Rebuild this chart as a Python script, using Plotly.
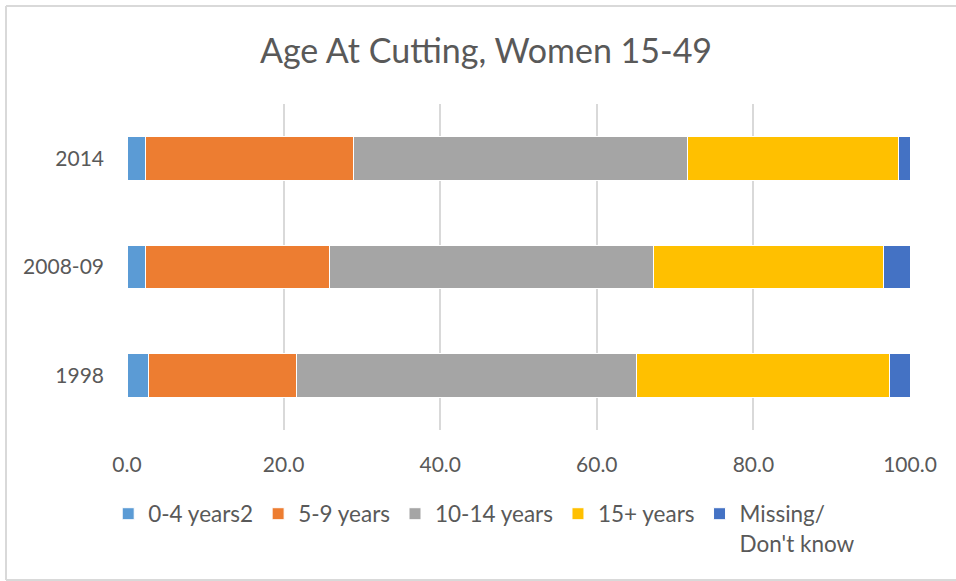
import plotly.graph_objects as go

# Survey years (bottom to top) and share of women by age at cutting (%)
years = ["1998", "2008-09", "2014"]
age_groups = ["0-4 years2", "5-9 years", "10-14 years", "15+ years", "Missing/<br>Don't know"]
age_0_4 = [2.7, 2.4, 2.3]
age_5_9 = [19.0, 23.5, 26.6]
age_10_14 = [43.4, 41.4, 42.7]
age_15_plus = [32.3, 29.3, 26.9]
missing = [2.6, 3.4, 1.5]

series = [age_0_4, age_5_9, age_10_14, age_15_plus, missing]
colors = ["#5B9BD5", "#ED7D31", "#A5A5A5", "#FFC000", "#4472C4"]

FONT = "Lato, Open Sans, sans-serif"
TEXT = "#595959"

fig = go.Figure()
for name, vals, col in zip(age_groups, series, colors):
    fig.add_trace(go.Bar(
        y=years, x=vals, name=name, orientation="h",
        marker=dict(color=col, line=dict(color="white", width=1)),
    ))

W, H = 956, 581
ml, mr, mt, mb = 127, 46, 104, 151
pw, ph = W - ml - mr, H - mt - mb

# chart frame (top, left, bottom edges; the right edge falls outside the window)
fx0, fx1 = (6 - ml) / pw, (W - ml) / pw
fy0, fy1 = (H - mb - 580) / ph, (H - mb - 6) / ph
frame = dict(type="line", xref="paper", yref="paper", layer="below",
             line=dict(color="#D9D9D9", width=2))

fig.update_layout(
    width=W, height=H,
    barmode="stack", bargap=0.6,
    paper_bgcolor="white", plot_bgcolor="white",
    font=dict(family=FONT, color=TEXT, size=21),
    title=dict(text="Age At Cutting, Women 15-49", x=486 / W, xref="container",
               xanchor="center", y=0.912, yanchor="middle",
               font=dict(size=34, color=TEXT)),
    margin=dict(l=ml, r=mr, t=mt, b=mb),
    legend=dict(orientation="h", x=-0.024, xanchor="left", y=-0.192, yanchor="top",
                font=dict(size=22.5, color=TEXT), traceorder="normal", valign="top"),
    shapes=[
        dict(frame, x0=fx0, x1=fx1, y0=fy1, y1=fy1),
        dict(frame, x0=fx0, x1=fx0, y0=fy0, y1=fy1),
        dict(frame, x0=fx0, x1=fx1, y0=fy0, y1=fy0),
    ],
)
fig.update_xaxes(range=[0, 100], dtick=20, tickformat=".1f",
                 showgrid=True, gridcolor="#D9D9D9", gridwidth=1.5,
                 zeroline=False, showline=False, ticks="",
                 ticklabelstandoff=20, tickfont=dict(size=21, color=TEXT))
fig.update_yaxes(showgrid=False, zeroline=False, showline=False, ticks="",
                 ticklabelstandoff=22, tickfont=dict(size=21, color=TEXT))

# drop the default 8px page margin so the figure sits at the window origin
fig.write_html("out.html", config={"displayModeBar": False},
               post_script="document.body.style.margin='0';")
